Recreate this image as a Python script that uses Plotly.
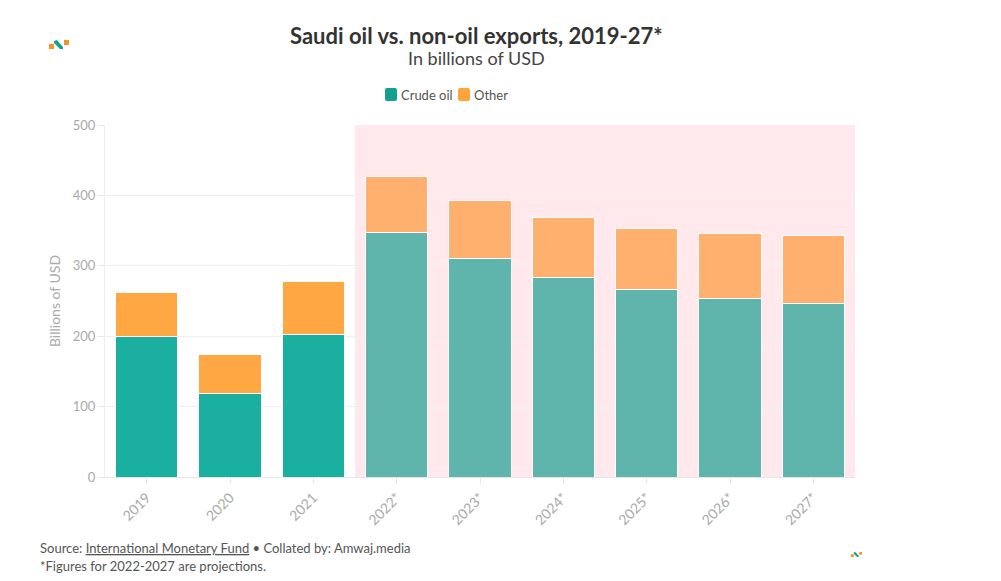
import plotly.graph_objects as go

years = ["2019", "2020", "2021", "2022*", "2023*", "2024*", "2025*", "2026*", "2027*"]
crude_oil = [200, 119, 202, 348, 311, 284, 266, 253, 246]
other = [62, 55, 75, 79, 82, 85, 87, 93, 97]
projected = [False, False, False, True, True, True, True, True, True]

CRUDE = "#1aaf9f"
OTHER = "#ffa843"
crude_cols = ["#5fb5ac" if p else CRUDE for p in projected]
other_cols = ["#ffb06e" if p else OTHER for p in projected]

FONT = "Lato, 'Source Sans Pro', 'Open Sans', sans-serif"

L, R, T, B = 105, 855, 125, 477
W, H = R - L, B - T

def px(x):
    return (x - L) / W
def py(y):
    return (B - y) / H

fig = go.Figure()
fig.add_trace(go.Bar(x=years, y=crude_oil, name="Crude oil", showlegend=False,
                     marker=dict(color=crude_cols, line=dict(color="white", width=1))))
fig.add_trace(go.Bar(x=years, y=other, name="Other", showlegend=False,
                     marker=dict(color=other_cols, line=dict(color="white", width=1))))

fig.add_shape(type="rect", xref="x", yref="paper", x0=2.5, x1=8.5, y0=0, y1=1,
              fillcolor="#ffe9ec", line=dict(width=0), layer="below")

# manual legend
def rrect(x0, y0, x1, y1, r, color):
    p = (f"M {px(x0+r)},{py(y0)} L {px(x1-r)},{py(y0)} Q {px(x1)},{py(y0)} {px(x1)},{py(y0+r)} "
         f"L {px(x1)},{py(y1-r)} Q {px(x1)},{py(y1)} {px(x1-r)},{py(y1)} "
         f"L {px(x0+r)},{py(y1)} Q {px(x0)},{py(y1)} {px(x0)},{py(y1-r)} "
         f"L {px(x0)},{py(y0+r)} Q {px(x0)},{py(y0)} {px(x0+r)},{py(y0)} Z")
    fig.add_shape(type="path", xref="paper", yref="paper", path=p, fillcolor=color, line=dict(width=0))

rrect(385, 88, 397, 101, 2, "#13a08f")
rrect(458, 88, 470, 101, 2, "#ffa43c")

annotations = [
    dict(text="Crude oil", x=px(399), y=py(94.5), xanchor="left", yanchor="middle"),
    dict(text="Other", x=px(472), y=py(94.5), xanchor="left", yanchor="middle"),
]
for a in annotations:
    a.update(xref="paper", yref="paper", showarrow=False,
             font=dict(size=13, color="#555555", family=FONT))

annotations += [
    dict(text="<b>Saudi oil vs. non-oil exports, 2019-27*</b>", xref="paper", yref="paper",
         x=px(476), y=py(35), yanchor="middle", xanchor="center", showarrow=False,
         font=dict(size=22, color="#333333", family=FONT)),
    dict(text="In billions of USD", xref="paper", yref="paper",
         x=px(476), y=py(58), yanchor="middle", xanchor="center", showarrow=False,
         font=dict(size=18, color="#444444", family=FONT)),
    dict(text="Source: <u>International Monetary Fund</u> • Collated by: Amwaj.media",
         xref="paper", yref="paper", x=px(38), y=py(548), xanchor="left", yanchor="middle",
         showarrow=False, font=dict(size=13, color="#555555", family=FONT)),
    dict(text="*Figures for 2022-2027 are projections.",
         xref="paper", yref="paper", x=px(38), y=py(566), xanchor="left", yanchor="middle",
         showarrow=False, font=dict(size=13, color="#555555", family=FONT)),
]

fig.update_layout(
    barmode="stack",
    bargap=0.25,
    width=1001, height=581,
    margin=dict(l=L, r=1001 - R, t=T, b=581 - B),
    plot_bgcolor="white", paper_bgcolor="white",
    font=dict(family=FONT, color="#999999", size=13),
    showlegend=False,
    xaxis=dict(tickangle=-45, showgrid=False, showline=True, linecolor="#e6e6e6",
               ticks="outside", tickcolor="#e6e6e6", ticklen=6,
               tickfont=dict(size=14, color="#aaaaaa")),
    yaxis=dict(range=[0, 500], dtick=100, gridcolor="#eeeeee", showline=True, linecolor="#eeeeee",
               ticks="outside", tickcolor="#e6e6e6", ticklen=6, zeroline=False,
               tickfont=dict(size=13, color="#aaaaaa"),
               title=dict(text="Billions of USD", font=dict(size=14, color="#aaaaaa"), standoff=8)),
    annotations=annotations,
)

def draw_logo(x0, y0, s):
    def P(dx, dy):
        return f"{px(x0 + dx*s)},{py(y0 + dy*s)}"
    fig.add_shape(type="path", xref="paper", yref="paper",
                  path=f"M {P(0,4)} L {P(5,4)} L {P(5,9)} L {P(0,9)} Z",
                  fillcolor="#f7931e", line=dict(width=0))
    fig.add_shape(type="path", xref="paper", yref="paper",
                  path=f"M {P(5,1)} L {P(8,0)} L {P(14,7)} L {P(14,9)} L {P(11,9)} L {P(5,3)} Z",
                  fillcolor="#14a393", line=dict(width=0))
    fig.add_shape(type="path", xref="paper", yref="paper",
                  path=f"M {P(15,0)} L {P(20,0)} L {P(20,5)} L {P(15,5)} Z",
                  fillcolor="#f7931e", line=dict(width=0))

draw_logo(49, 40, 1.0)
draw_logo(851, 552, 0.55)

fig.write_html("out.html")
